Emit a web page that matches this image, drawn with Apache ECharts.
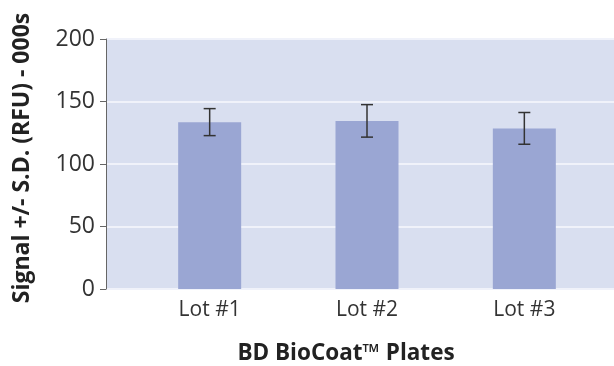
<!DOCTYPE html>
<html><head><meta charset="utf-8">
<script src="https://cdn.jsdelivr.net/npm/echarts@6/dist/echarts.min.js"></script>
<style>html,body{margin:0;padding:0;background:#fff}#c{width:614px;height:366px}</style>
</head><body><div id="c"></div>
<script>
const categories = ['Lot #1', 'Lot #2', 'Lot #3'];
const means = [133.5, 134.5, 128.5];
const sds = [10.8, 13, 12.7];
const yTicks = { min: 0, max: 200, interval: 50 };
const yTitle = 'Signal +/- S.D. (RFU) - 000s';
const xTitle = 'BD BioCoat™ Plates';

const font = '"Open Sans", "Noto Sans", sans-serif';
const errData = categories.map((c, i) => [i, means[i] - sds[i], means[i] + sds[i]]);

const chart = echarts.init(document.getElementById('c'), null, { renderer: 'canvas' });
chart.setOption({
  animation: false,
  backgroundColor: '#fff',
  grid: [
    { left: 106, right: 0, top: 39, bottom: 77, show: true, backgroundColor: '#d9dff0', borderWidth: 0 },
    { left: 131, right: 11, top: 39, bottom: 77 }
  ],
  xAxis: [
    { gridIndex: 0, type: 'value', show: false, min: 0, max: 1 },
    { gridIndex: 1, type: 'category', data: categories,
      axisLine: { show: false }, axisTick: { show: false },
      axisLabel: { fontFamily: font, fontSize: 21, color: '#333', margin: 11 } }
  ],
  yAxis: [
    { gridIndex: 0, type: 'value', min: yTicks.min, max: yTicks.max, interval: yTicks.interval,
      axisLine: { show: true, lineStyle: { color: '#666', width: 1 } },
      axisTick: { show: true, length: 6, lineStyle: { color: '#666' } },
      axisLabel: { fontFamily: font, fontSize: 23, color: '#333', margin: 11 },
      splitLine: { show: true, lineStyle: { color: '#f0f2fa', width: 2 } } },
    { gridIndex: 1, type: 'value', min: yTicks.min, max: yTicks.max, interval: yTicks.interval, show: false,
      splitLine: { show: false } }
  ],
  series: [
    { type: 'bar', xAxisIndex: 1, yAxisIndex: 1, data: means, barWidth: 63,
      itemStyle: { color: '#9aa6d3' }, z: 2 },
    { type: 'custom', xAxisIndex: 1, yAxisIndex: 1, data: errData, z: 3,
      renderItem: function (params, api) {
        const x = api.value(0);
        const lo = api.coord([x, api.value(1)]);
        const hi = api.coord([x, api.value(2)]);
        const hw = 6;
        const st = { stroke: '#333', lineWidth: 1.5 };
        return { type: 'group', children: [
          { type: 'line', shape: { x1: lo[0], y1: lo[1], x2: hi[0], y2: hi[1] }, style: st },
          { type: 'line', shape: { x1: lo[0] - hw, y1: lo[1], x2: lo[0] + hw, y2: lo[1] }, style: st },
          { type: 'line', shape: { x1: hi[0] - hw, y1: hi[1], x2: hi[0] + hw, y2: hi[1] }, style: st }
        ]};
      }
    }
  ],
  graphic: [
    { type: 'text', x: 22, y: 158, rotation: Math.PI / 2,
      style: { text: yTitle, font: 'bold 23px ' + font, fill: '#222', align: 'center', verticalAlign: 'middle' } },
    { type: 'text', x: 346, y: 354,
      style: { text: xTitle, font: 'bold 22.5px ' + font, fill: '#222', align: 'center', verticalAlign: 'middle' } }
  ]
});
</script></body></html>
